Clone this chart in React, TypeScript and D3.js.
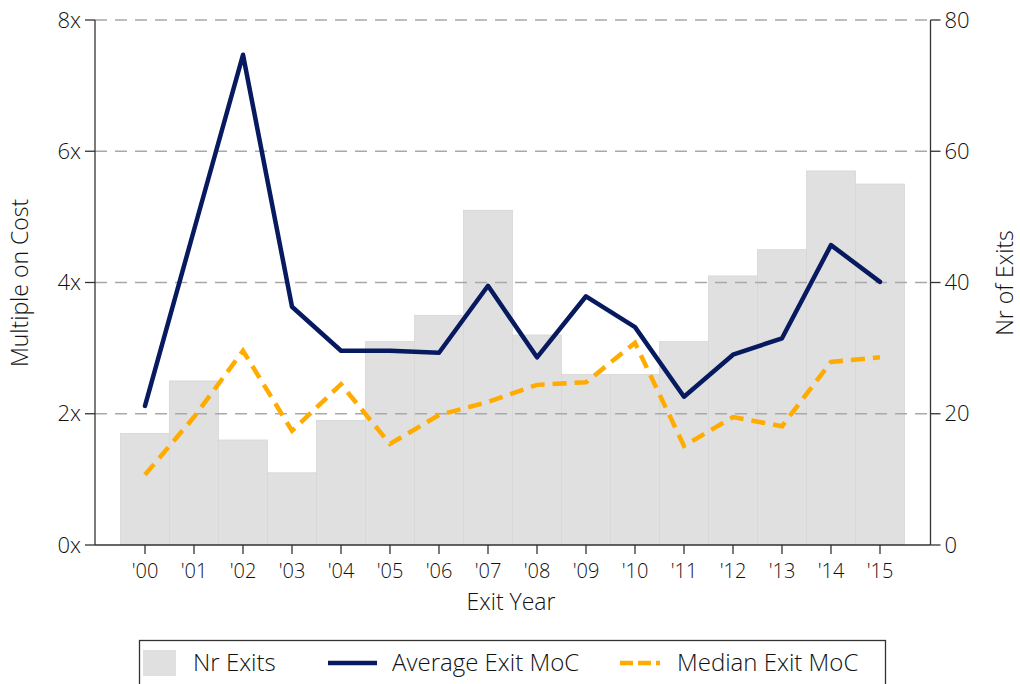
import * as d3 from "d3";

const years = ["'00", "'01", "'02", "'03", "'04", "'05", "'06", "'07", "'08", "'09", "'10", "'11", "'12", "'13", "'14", "'15"];
const nrExits = [17, 25, 16, 11, 19, 31, 35, 51, 32, 26, 26, 31, 41, 45, 57, 55];
const avgMoC = [2.12, 4.8, 7.47, 3.63, 2.96, 2.96, 2.93, 3.95, 2.86, 3.79, 3.32, 2.26, 2.9, 3.15, 4.57, 4.01];
const medianMoC = [1.07, 1.95, 2.96, 1.74, 2.45, 1.54, 1.98, 2.18, 2.44, 2.48, 3.08, 1.51, 1.95, 1.81, 2.79, 2.86];
const leftTicks = [0, 2, 4, 6, 8];
const rightTicks = [0, 20, 40, 60, 80];

const FONT = "'Open Sans', sans-serif";
const NAVY = "#071a5f";
const ORANGE = "#ffab00";

export default function App() {
  const W = 1020;
  const H = 684;
  const left = 95;
  const right = 930.5;
  const top = 20;
  const bottom = 545;

  const x = d3.scaleBand<string>().domain(years).range([120.5, 904.5]).padding(0);
  const xc = (i: number) => (x(years[i]) ?? 0) + x.bandwidth() / 2;
  const yL = d3.scaleLinear().domain([0, 8]).range([bottom, top]);
  const yR = d3.scaleLinear().domain([0, 80]).range([bottom, top]);

  const line = d3
    .line<number>()
    .x((_, i) => xc(i))
    .y((d) => yL(d));

  const txt = { fontFamily: FONT, fontWeight: 300, fill: "#111" } as const;

  return (
    <svg width={W} height={H} style={{ position: "absolute", left: 0, top: 0 }}>
      <rect width={W} height={H} fill="#fff" />
      {/* bars */}
      {nrExits.map((v, i) => (
        <rect
          key={i}
          x={x(years[i])}
          y={yR(v)}
          width={x.bandwidth()}
          height={bottom - yR(v)}
          fill="#e0e0e0"
          stroke="#d6d6d6"
          strokeWidth={0.8}
        />
      ))}
      {/* grid */}
      {leftTicks.slice(1).map((t) => (
        <line
          key={t}
          x1={left}
          x2={right}
          y1={yL(t)}
          y2={yL(t)}
          stroke="#a8a8a8"
          strokeWidth={1.3}
          strokeDasharray="12 8"
        />
      ))}
      {/* lines */}
      <path d={line(avgMoC) ?? ""} fill="none" stroke={NAVY} strokeWidth={4.5} strokeLinejoin="round" strokeLinecap="round" />
      <path d={line(medianMoC) ?? ""} fill="none" stroke={ORANGE} strokeWidth={4.5} strokeDasharray="14 8" />
      {/* axes */}
      <line x1={left} x2={left} y1={top} y2={bottom} stroke="#333" strokeWidth={1.3} />
      <line x1={right} x2={right} y1={top} y2={bottom} stroke="#333" strokeWidth={1.3} />
      <line x1={left} x2={right} y1={bottom} y2={bottom} stroke="#333" strokeWidth={1.3} />
      {leftTicks.map((t) => (
        <g key={t}>
          <line x1={left - 10} x2={left} y1={yL(t)} y2={yL(t)} stroke="#333" strokeWidth={1.3} />
          <text x={left - 14} y={yL(t)} dy="0.35em" textAnchor="end" fontSize={22} {...txt}>
            {t}x
          </text>
        </g>
      ))}
      {rightTicks.map((t) => (
        <g key={t}>
          <line x1={right} x2={right + 10} y1={yR(t)} y2={yR(t)} stroke="#333" strokeWidth={1.3} />
          <text x={right + 14} y={yR(t)} dy="0.35em" textAnchor="start" fontSize={22} {...txt}>
            {t}
          </text>
        </g>
      ))}
      {years.map((yr, i) => (
        <g key={yr}>
          <line x1={xc(i)} x2={xc(i)} y1={bottom} y2={bottom + 9} stroke="#333" strokeWidth={1.3} />
          <text x={xc(i)} y={bottom + 26} dy="0.35em" textAnchor="middle" fontSize={20} {...txt}>
            {yr}
          </text>
        </g>
      ))}
      <text x={511} y={602} dy="0.35em" textAnchor="middle" fontSize={23} {...txt}>
        Exit Year
      </text>
      <text transform={`translate(20,283) rotate(-90)`} dy="0.35em" textAnchor="middle" fontSize={23} {...txt}>
        Multiple on Cost
      </text>
      <text transform={`translate(1005,283) rotate(-90)`} dy="0.35em" textAnchor="middle" fontSize={23} {...txt}>
        Nr of Exits
      </text>
      {/* legend */}
      <rect x={139.5} y={640.5} width={746} height={60} fill="#fff" stroke="#333" strokeWidth={1.3} />
      <rect x={143} y={650} width={33} height={26} fill="#e0e0e0" />
      <text x={193} y={663} dy="0.35em" fontSize={24} {...txt}>
        Nr Exits
      </text>
      <line x1={328} x2={377} y1={663} y2={663} stroke={NAVY} strokeWidth={4.5} />
      <text x={392} y={663} dy="0.35em" fontSize={24} {...txt}>
        Average Exit MoC
      </text>
      <line x1={620} x2={660} y1={663} y2={663} stroke={ORANGE} strokeWidth={4.5} strokeDasharray="13 5" />
      <text x={677} y={663} dy="0.35em" fontSize={24} {...txt}>
        Median Exit MoC
      </text>
    </svg>
  );
}
